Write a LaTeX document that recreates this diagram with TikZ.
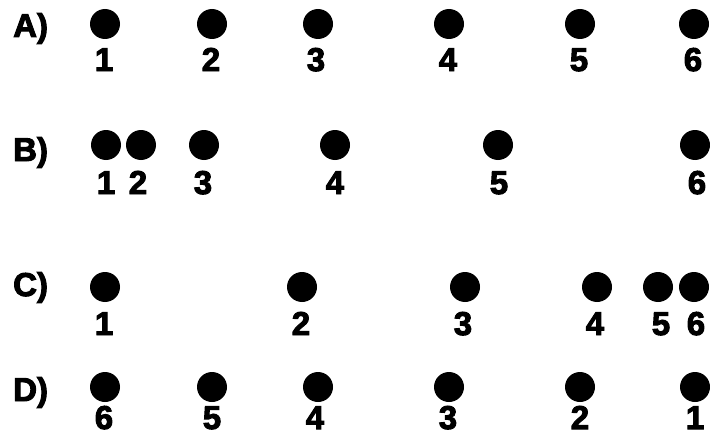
\documentclass[tikz,border=0pt]{standalone}
\usepackage{fontspec}
\newfontfamily\heavy[FakeBold=3]{Liberation Sans Bold}
\begin{document}
\begin{tikzpicture}[x=1pt,y=-1pt,
  dot/.style={circle,fill=black,inner sep=0pt,minimum size=30pt},
  num/.style={anchor=base,inner sep=0pt,font=\heavy\fontsize{33}{33}\selectfont},
  lbl/.style={anchor=base west,inner sep=0pt,font=\heavy\fontsize{33}{33}\selectfont}]
\useasboundingbox (0,0) rectangle (710,436);
% Row A
\node[lbl] (la) at (13,37) {A)};
\foreach \x/\n [count=\i] in {105/1,212/2,318/3,449/4,580/5,694/6}{
  \node[dot] (a\i) at (\x,24) {};
}
\foreach \x/\n [count=\i] in {104/1,211/2,316/3,448/4,579/5,693/6}{
  \node[num] (an\i) at (\x,71) {\n};
}
% Row B
\node[lbl] (lb) at (13,161) {B)};
\foreach \x/\n [count=\i] in {106/1,141/2,204/3,335/4,498/5,695/6}{
  \node[dot] (b\i) at (\x,145) {};
}
\foreach \x/\n [count=\i] in {106/1,138/2,203/3,335/4,499/5,697/6}{
  \node[num] (bn\i) at (\x,194) {\n};
}
% Row C
\node[lbl] (lc) at (13,296) {C)};
\foreach \x/\n [count=\i] in {105/1,302/2,465/3,597/4,658/5,694/6}{
  \node[dot] (c\i) at (\x,287) {};
}
\foreach \x/\n [count=\i] in {104/1,301/2,463/3,595/4,661/5,696/6}{
  \node[num] (cn\i) at (\x,335) {\n};
}
% Row D
\node[lbl] (ld) at (13,401) {D)};
\foreach \x/\n [count=\i] in {105/1,212/2,318/3,449/4,580/5,695/6}{
  \node[dot] (d\i) at (\x,387) {};
}
\foreach \x/\n [count=\i] in {104/6,212/5,315/4,448/3,580/2,695/1}{
  \node[num] (dn\i) at (\x,429) {\n};
}
\end{tikzpicture}
\end{document}
